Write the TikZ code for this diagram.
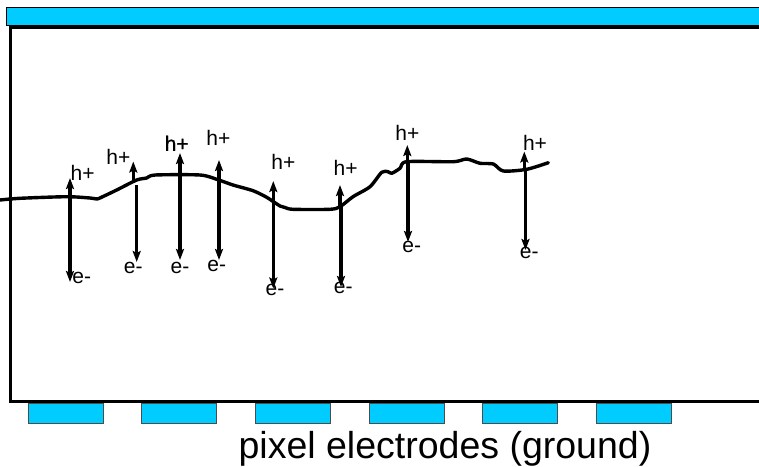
\documentclass[tikz,border=0pt]{standalone}
\usepackage{fontspec}
\setmainfont{Liberation Sans}
\newfontfamily\fakebold[FakeBold=0.8]{Liberation Sans}
\usetikzlibrary{arrows.meta}
\definecolor{elcyan}{RGB}{0,204,255}
\begin{document}
\begin{tikzpicture}[x=1pt,y=-1pt,
  thick line/.style={line width=3.2pt},
  carrier/.style={line width=3.4pt,-{Stealth[length=11pt,width=8pt,inset=2pt]}},
  lbl/.style={inner sep=0pt,font=\fontsize{21}{21}\selectfont},
  electrode/.style={fill=elcyan,draw=black!70,line width=0.7pt}]
\useasboundingbox (0,0) rectangle (759,466);
% top electrode bar
\node[fill=elcyan,draw=black,line width=0.8pt,minimum width=756pt,minimum height=18pt,inner sep=0pt,anchor=north west] (bar) at (6,7) {};
% sensor box (open on the right)
\coordinate (boxTR) at (760,27);
\coordinate (boxTL) at (10.5,27);
\coordinate (boxBL) at (10.5,401.5);
\coordinate (boxBR) at (760,401.5);
\draw[thick line] (boxTR) -- (boxTL) -- (boxBL) -- (boxBR);
% pixel electrodes
\foreach \i/\x in {1/27.5,2/141.2,3/254.9,4/368.6,5/482.3,6/596}
  \node[electrode,minimum width=75pt,minimum height=19.5pt,inner sep=0pt,anchor=north west] (px\i) at (\x,403.3) {};
\node[inner sep=0pt,font=\fontsize{37.5}{38}\selectfont,anchor=base] (caption) at (445,458) {pixel electrodes (ground)};
% particle track
\draw[line width=3.4pt,line join=round,line cap=round] plot[smooth,tension=0.45] coordinates {
(0,200) (20,198.3) (66.7,196.7) (90,198) (97,199) (102,197) (116.7,190) (136.7,180)
(146.7,178) (155,175) (200,175) (216.7,179.3) (233,185) (253,190.7) (266.7,197.3)
(280,206) (285,207.5) (293,209.3) (330,209.3) (340,206.7) (353,196.7) (370,186.7)
(381.7,172.3) (388,171.7) (391.7,173.3) (400,168.3) (406.7,161.7) (453.3,161.7)
(466.7,159) (480,163.3) (493.3,164) (503.3,171) (526.7,169.3) (548.3,162.7)};
% carrier pairs: track point, hole tip, electron tip
\foreach \n/\xu/\xd/\yt/\ydt/\yu/\yd in {
 1/70/70/196.7/196.7/178/282,
 2/133.3/136.7/181/185/161.5/262,
 3/180/180/175/175/153/260,
 4/219/219/180/180/160/260,
 5/273.3/273.3/201.5/201.5/181/288.5,
 6/340/341/206.7/206.7/185/287,
 7/407.3/408/161.7/161.7/145/242,
 8/524.3/525.5/169.5/169.5/151.5/250}{
  \coordinate (tu\n) at (\xu,\yt);
  \coordinate (td\n) at (\xd,\ydt);
  \coordinate (h\n) at (\xu,\yu);
  \coordinate (e\n) at (\xd,\yd);
  \draw[carrier] (tu\n) -- (h\n);
  \draw[carrier] (td\n) -- (e\n);
}
% labels
\node[lbl] (hl1) at (82.7,173.3) {h+};
\node[lbl] (hl2) at (118.3,156.7) {h+};
\node[lbl,font=\fontsize{21}{21}\fakebold] (hl3) at (176.7,143.3) {h+};
\node[lbl] (hl4) at (218.3,138.3) {h+};
\node[lbl] (hl5) at (283.3,161.7) {h+};
\node[lbl] (hl6) at (345.7,168.3) {h+};
\node[lbl] (hl7) at (407.3,133.3) {h+};
\node[lbl] (hl8) at (535,143.3) {h+};
\node[lbl] (el1) at (81.7,278.3) {e-};
\node[lbl] (el2) at (133.3,268.3) {e-};
\node[lbl] (el3) at (180,268.3) {e-};
\node[lbl] (el4) at (216.7,265.7) {e-};
\node[lbl] (el5) at (275,290) {e-};
\node[lbl] (el6) at (343.3,288.3) {e-};
\node[lbl] (el7) at (411.7,246.7) {e-};
\node[lbl] (el8) at (529.3,253.3) {e-};
\end{tikzpicture}
\end{document}
